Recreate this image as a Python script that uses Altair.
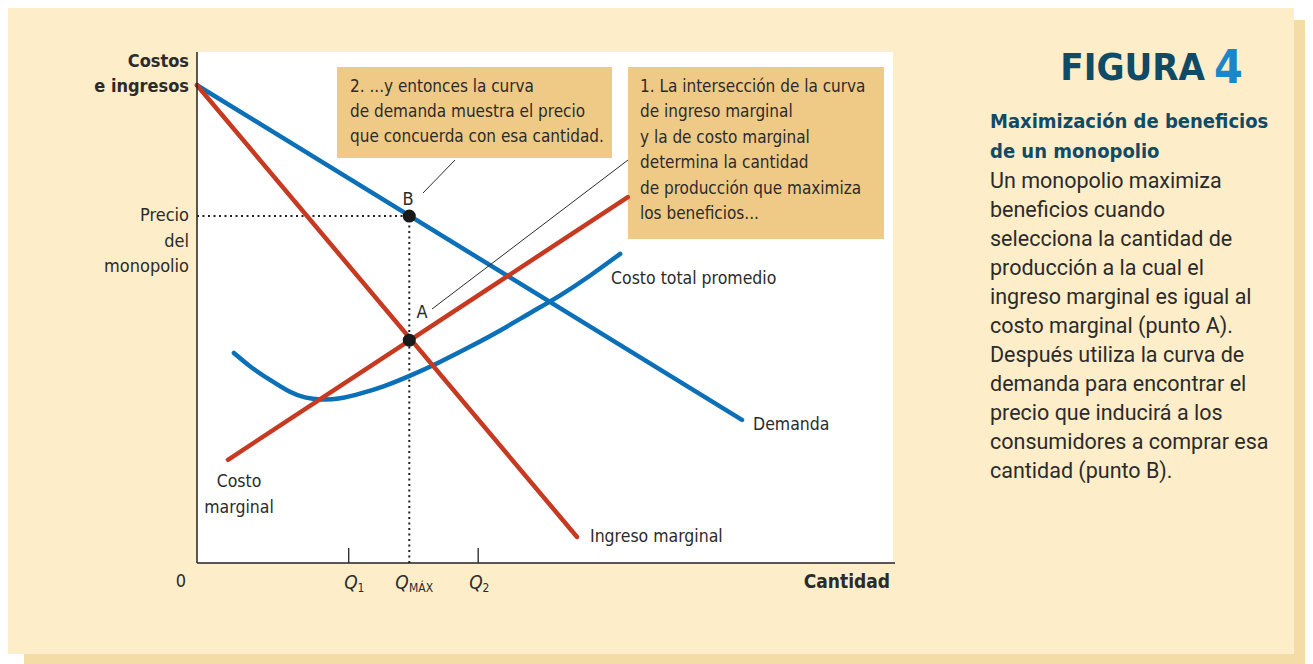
import altair as alt
import pandas as pd

# ---------------- data (quantity 0..100, cost/price 0..100) ----------------
demand_q = [0.0, 78.3]
demand_p = [93.5, 28.0]
mr_q = [0.0, 54.6]
mr_p = [93.5, 5.1]
mc_q = [4.45, 61.9]
mc_p = [20.2, 71.6]
atc_q = [5.3, 7.6, 10.5, 13.4, 15.5, 17.7, 20.6, 23.4, 27.0, 30.6, 34.9,
         39.2, 43.5, 47.8, 52.2, 56.5, 60.8]
atc_p = [41.1, 38.4, 35.8, 33.3, 32.3, 31.9, 32.1, 33.1, 34.6, 36.6, 39.3,
         42.3, 45.4, 48.9, 52.3, 56.2, 60.5]
q_max = 30.5
p_monopoly = 67.9
p_a = 43.6
q_ticks = [21.8, 40.4]
point_labels = ["B", "A"]

# ---------------- texts ----------------
ylab_top = ["Costos", "e ingresos"]
ylab_price = ["Precio", "del", "monopolio"]
note2 = ["2. ...y entonces la curva", "de demanda muestra el precio",
         "que concuerda con esa cantidad."]
note1 = ["1. La intersección de la curva", "de ingreso marginal",
         "y la de costo marginal", "determina la cantidad",
         "de producción que maximiza", "los beneficios..."]
curve_labels = ["Costo total promedio", "Demanda", "Ingreso marginal"]
mc_label = ["Costo", "marginal"]
fig_title = ["FIGURA", "4"]
fig_sub = ["Maximización de beneficios", "de un monopolio"]
fig_body = ["Un monopolio maximiza", "beneficios cuando",
            "selecciona la cantidad de", "producción a la cual el",
            "ingreso marginal es igual al", "costo marginal (punto A).",
            "Después utiliza la curva de", "demanda para encontrar el",
            "precio que inducirá a los", "consumidores a comprar esa",
            "cantidad (punto B)."]

W, H = 696, 511
OX, OY = 197, 52  # page position of plot origin


def X(px):
    return px - OX


def Y(py):
    return py - OY


BLUE = "#0c70b8"
RED = "#c63a22"
CREAM = "#fdedc9"
SHADOW = "#f3dca5"
BOX = "#efca86"
INK = "#2b2b2b"
TEAL = "#0f4a66"
NARROW = "DejaVu Sans Condensed, sans-serif"
BODY = "Roboto, Open Sans, sans-serif"

xs = alt.Scale(domain=[0, 100], zero=False, nice=False)
ys = alt.Scale(domain=[0, 100], zero=False, nice=False)

one = pd.DataFrame({"k": [0]})


def rect(x1, y1, x2, y2, color):
    return alt.Chart(one).mark_rect(color=color).encode(
        x=alt.value(X(x1)), x2=alt.value(X(x2)),
        y=alt.value(Y(y1)), y2=alt.value(Y(y2)))


def txt(s, x, y, size=17, align="left", font=NARROW, weight="normal",
        color=INK, style="normal", lh=None):
    kw = dict(align=align, baseline="middle", fontSize=size, font=font,
              fontWeight=weight, color=color, fontStyle=style)
    if lh is not None:
        kw["lineHeight"] = lh
        kw["lineBreak"] = "\n"
    return alt.Chart(one).mark_text(**kw).encode(
        x=alt.value(X(x)), y=alt.value(Y(y)), text=alt.value(s))


def seg(x1, y1, x2, y2, color=INK, width=1.0, dash=None):
    kw = dict(color=color, strokeWidth=width)
    if dash:
        kw["strokeDash"] = dash
    return alt.Chart(one).mark_rule(**kw).encode(
        x=alt.value(X(x1)), x2=alt.value(X(x2)),
        y=alt.value(Y(y1)), y2=alt.value(Y(y2)))


def curve(qs, ps, color, interp="linear"):
    df = pd.DataFrame({"q": qs, "p": ps})
    return alt.Chart(df).mark_line(color=color, strokeWidth=4.5,
                                   strokeCap="round", interpolate=interp).encode(
        x=alt.X("q:Q", scale=xs, axis=None),
        y=alt.Y("p:Q", scale=ys, axis=None))


layers = []
# background panel and shadow
layers.append(rect(24, 20, 1310, 664, SHADOW))
layers.append(rect(8, 5, 1294, 654, CREAM))
layers.append(rect(OX, OY, OX + W, OY + H, "white"))
# annotation boxes
layers.append(rect(337, 67, 612, 158, BOX))
layers.append(rect(628, 67, 884, 239, BOX))

# dotted guides
guide_h = pd.DataFrame({"q0": [0], "q1": [q_max], "p": [p_monopoly]})
layers.append(alt.Chart(guide_h).mark_rule(color="#222", strokeWidth=2,
                                           strokeDash=[2, 3.5]).encode(
    x=alt.X("q0:Q", scale=xs, axis=None), x2="q1:Q",
    y=alt.Y("p:Q", scale=ys, axis=None)))
guide_v = pd.DataFrame({"q": [q_max], "p0": [0], "p1": [p_monopoly]})
layers.append(alt.Chart(guide_v).mark_rule(color="#222", strokeWidth=2,
                                           strokeDash=[2, 3.5]).encode(
    x=alt.X("q:Q", scale=xs, axis=None),
    y=alt.Y("p0:Q", scale=ys, axis=None), y2="p1:Q"))

# curves
layers.append(curve(atc_q, atc_p, BLUE, "basis"))
layers.append(curve(demand_q, demand_p, BLUE))
layers.append(curve(mr_q, mr_p, RED))
layers.append(curve(mc_q, mc_p, RED))

# axes
layers.append(seg(OX, OY, OX, OY + H, color="#222", width=1.5))
layers.append(seg(OX, OY + H, OX + W + 2, OY + H, color="#222", width=1.5))
tick_df = pd.DataFrame({"q": q_ticks})
layers.append(alt.Chart(tick_df).mark_rule(color="#222", strokeWidth=1.3).encode(
    x=alt.X("q:Q", scale=xs, axis=None),
    y=alt.value(H), y2=alt.value(H - 15)))

# pointer lines
layers.append(seg(423, 193, 455, 160, width=1.0))
layers.append(seg(432, 309, 628, 160, width=1.0))

# points
pts = pd.DataFrame({"q": [q_max, q_max], "p": [p_monopoly, p_a],
                    "lab": point_labels})
layers.append(alt.Chart(pts).mark_circle(color="#1a1a1a", opacity=1,
                                         size=170).encode(
    x=alt.X("q:Q", scale=xs, axis=None), y=alt.Y("p:Q", scale=ys, axis=None)))
layers.append(txt(point_labels[0], 408, 200, size=18, align="center"))
layers.append(txt(point_labels[1], 422, 313, size=18, align="center"))

# axis texts
layers.append(txt("\n".join(ylab_top), 189, 62, size=18, align="right",
                  weight="bold", lh=25))
layers.append(txt("\n".join(ylab_price), 189, 216, size=18, align="right",
                  lh=25.5))
layers.append(txt("0", 181, 582, size=18, align="center"))
layers.append(txt("Cantidad", 890, 582, size=19, align="right", weight="bold"))
layers.append(txt("Q", 351, 583, size=19, align="center", style="italic"))
layers.append(txt("1", 361, 588, size=12, align="center"))
layers.append(txt("Q", 402, 583, size=19, align="center", style="italic"))
layers.append(txt("MÁX", 409, 588, size=12, align="left"))
layers.append(txt("Q", 476, 583, size=19, align="center", style="italic"))
layers.append(txt("2", 486, 588, size=12, align="center"))

# curve labels
layers.append(txt(curve_labels[0], 611, 279, size=17.5))
layers.append(txt(curve_labels[1], 753, 425, size=17.5))
layers.append(txt(curve_labels[2], 590, 537, size=17.5))
layers.append(txt("\n".join(mc_label), 239, 482, size=17.5, align="center",
                  lh=26))

# notes
layers.append(txt("\n".join(note2), 350, 87, size=17, lh=25))
layers.append(txt("\n".join(note1), 640, 87, size=17, lh=25.4))

# right panel
layers.append(txt(fig_title[0], 1205, 69, size=38, weight="bold",
                  font=NARROW, color=TEAL, align="right"))
layers.append(txt(fig_title[1], 1214, 69, size=46, weight="bold",
                  font=NARROW, color="#1b87c9"))
layers.append(txt("\n".join(fig_sub), 990, 122, size=20, weight="bold",
                  font=NARROW, color=TEAL, lh=30))
layers.append(txt("\n".join(fig_body), 990, 182, size=21.5, font=BODY,
                  color=INK, lh=29))

chart = alt.layer(*layers).properties(
    width=W, height=H,
    autosize=alt.AutoSizeParams(type="none"),
    padding={"left": 189, "top": 44, "right": 412, "bottom": 101},
    background="white",
).configure_view(stroke=None)

chart.save("out.html", embed_options={"renderer": "svg", "actions": False})
